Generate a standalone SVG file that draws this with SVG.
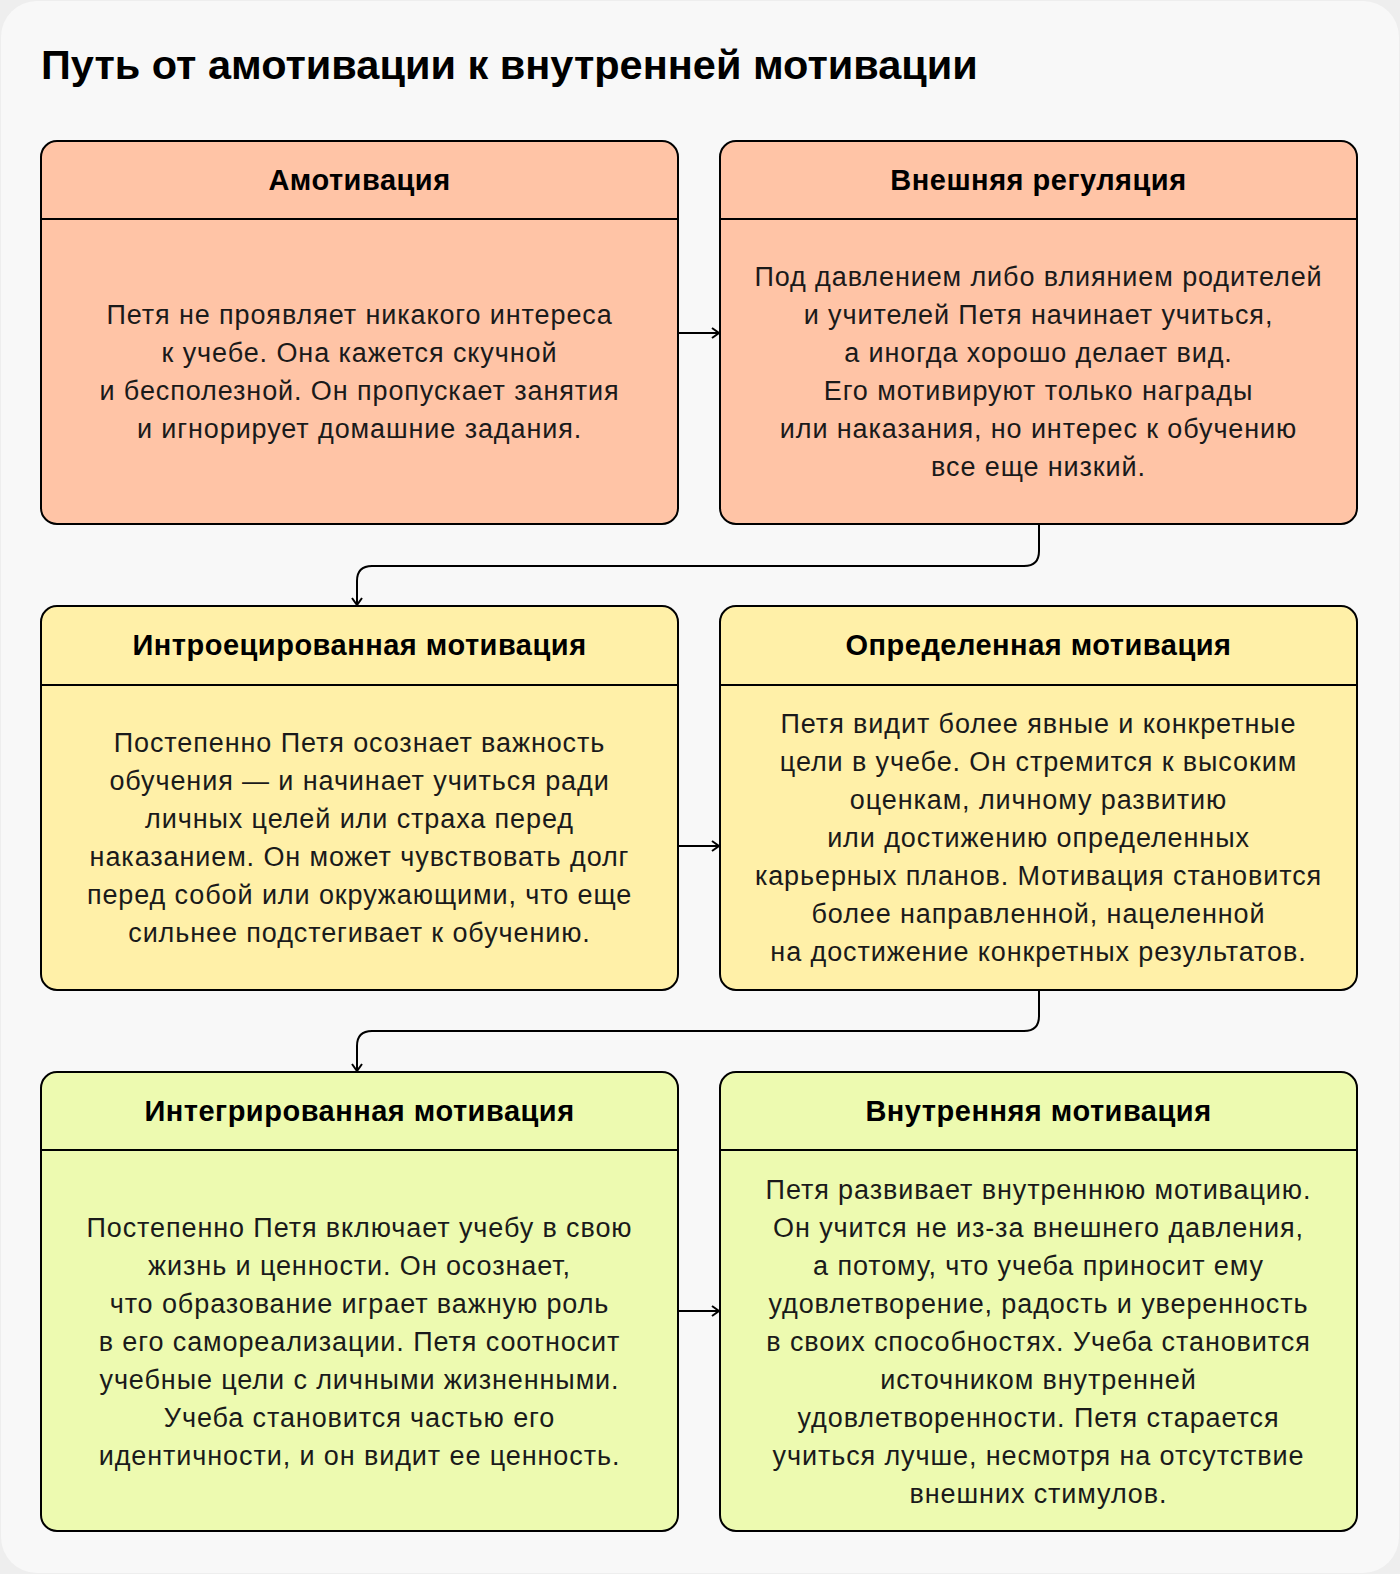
<svg xmlns="http://www.w3.org/2000/svg" width="1400" height="1574" viewBox="0 0 1400 1574">
<defs>
<style>
.box{stroke:#000;stroke-width:2}
.r1{fill:#FFC4A6}.r2{fill:#FFF0A8}.r3{fill:#EDFAB0}
.div{stroke:#000;stroke-width:2}
.h{font-family:"Liberation Sans",Arial,sans-serif;font-weight:bold;font-size:29px;letter-spacing:0.5px;fill:#000;text-anchor:middle}
.t{font-family:"Liberation Sans",Arial,sans-serif;font-size:27px;letter-spacing:0.9px;fill:#1a1a1a;text-anchor:middle}
.c{fill:none;stroke:#000;stroke-width:2}
</style>
<marker id="ah" viewBox="0 0 12 12" refX="10" refY="6" markerWidth="12" markerHeight="12" markerUnits="userSpaceOnUse" orient="auto">
<polyline points="3,1 10,6 3,11" fill="none" stroke="#000" stroke-width="2"/>
</marker>
</defs>
<rect x="0" y="0" width="1400" height="1574" fill="#EEEEEE"/>
<rect x="1" y="1" width="1398" height="1572" rx="36" fill="#F8F8F8"/>
<text x="41" y="79" font-family="Liberation Sans, Arial, sans-serif" font-weight="bold" font-size="41.5" fill="#000">Путь от амотивации к внутренней мотивации</text>

<g id="connectors">
<path class="c" d="M678 333 H719" marker-end="url(#ah)"/>
<path class="c" d="M678 846 H719" marker-end="url(#ah)"/>
<path class="c" d="M678 1311 H719" marker-end="url(#ah)"/>
<path class="c" d="M1039 524 V551 Q1039 566 1024 566 H372 Q357 566 357 581 V605" marker-end="url(#ah)"/>
<path class="c" d="M1039 990 V1016 Q1039 1031 1024 1031 H372 Q357 1031 357 1046 V1071" marker-end="url(#ah)"/>
</g>

<g id="n1">
<rect class="box r1" x="41" y="141" width="637" height="383" rx="16"/>
<line class="div" x1="41" y1="219" x2="678" y2="219"/>
<text class="h" x="359.5" y="190">Амотивация</text>
<text class="t" x="359.5" y="324">Петя не проявляет никакого интереса</text>
<text class="t" x="359.5" y="362">к учебе. Она кажется скучной</text>
<text class="t" x="359.5" y="400">и бесполезной. Он пропускает занятия</text>
<text class="t" x="359.5" y="438">и игнорирует домашние задания.</text>
</g>

<g id="n2">
<rect class="box r1" x="720" y="141" width="637" height="383" rx="16"/>
<line class="div" x1="720" y1="219" x2="1357" y2="219"/>
<text class="h" x="1038.5" y="190">Внешняя регуляция</text>
<text class="t" x="1038.5" y="286">Под давлением либо влиянием родителей</text>
<text class="t" x="1038.5" y="324">и учителей Петя начинает учиться,</text>
<text class="t" x="1038.5" y="362">а иногда хорошо делает вид.</text>
<text class="t" x="1038.5" y="400">Его мотивируют только награды</text>
<text class="t" x="1038.5" y="438">или наказания, но интерес к обучению</text>
<text class="t" x="1038.5" y="476">все еще низкий.</text>
</g>

<g id="n3">
<rect class="box r2" x="41" y="606" width="637" height="384" rx="16"/>
<line class="div" x1="41" y1="685" x2="678" y2="685"/>
<text class="h" x="359.5" y="655">Интроецированная мотивация</text>
<text class="t" x="359.5" y="752">Постепенно Петя осознает важность</text>
<text class="t" x="359.5" y="790">обучения — и начинает учиться ради</text>
<text class="t" x="359.5" y="828">личных целей или страха перед</text>
<text class="t" x="359.5" y="866">наказанием. Он может чувствовать долг</text>
<text class="t" x="359.5" y="904">перед собой или окружающими, что еще</text>
<text class="t" x="359.5" y="942">сильнее подстегивает к обучению.</text>
</g>

<g id="n4">
<rect class="box r2" x="720" y="606" width="637" height="384" rx="16"/>
<line class="div" x1="720" y1="685" x2="1357" y2="685"/>
<text class="h" x="1038.5" y="655">Определенная мотивация</text>
<text class="t" x="1038.5" y="733">Петя видит более явные и конкретные</text>
<text class="t" x="1038.5" y="771">цели в учебе. Он стремится к высоким</text>
<text class="t" x="1038.5" y="809">оценкам, личному развитию</text>
<text class="t" x="1038.5" y="847">или достижению определенных</text>
<text class="t" x="1038.5" y="885">карьерных планов. Мотивация становится</text>
<text class="t" x="1038.5" y="923">более направленной, нацеленной</text>
<text class="t" x="1038.5" y="961">на достижение конкретных результатов.</text>
</g>

<g id="n5">
<rect class="box r3" x="41" y="1072" width="637" height="459" rx="16"/>
<line class="div" x1="41" y1="1150" x2="678" y2="1150"/>
<text class="h" x="359.5" y="1121">Интегрированная мотивация</text>
<text class="t" x="359.5" y="1237">Постепенно Петя включает учебу в свою</text>
<text class="t" x="359.5" y="1275">жизнь и ценности. Он осознает,</text>
<text class="t" x="359.5" y="1313">что образование играет важную роль</text>
<text class="t" x="359.5" y="1351">в его самореализации. Петя соотносит</text>
<text class="t" x="359.5" y="1389">учебные цели с личными жизненными.</text>
<text class="t" x="359.5" y="1427">Учеба становится частью его</text>
<text class="t" x="359.5" y="1465">идентичности, и он видит ее ценность.</text>
</g>

<g id="n6">
<rect class="box r3" x="720" y="1072" width="637" height="459" rx="16"/>
<line class="div" x1="720" y1="1150" x2="1357" y2="1150"/>
<text class="h" x="1038.5" y="1121">Внутренняя мотивация</text>
<text class="t" x="1038.5" y="1199">Петя развивает внутреннюю мотивацию.</text>
<text class="t" x="1038.5" y="1237">Он учится не из-за внешнего давления,</text>
<text class="t" x="1038.5" y="1275">а потому, что учеба приносит ему</text>
<text class="t" x="1038.5" y="1313">удовлетворение, радость и уверенность</text>
<text class="t" x="1038.5" y="1351">в своих способностях. Учеба становится</text>
<text class="t" x="1038.5" y="1389">источником внутренней</text>
<text class="t" x="1038.5" y="1427">удовлетворенности. Петя старается</text>
<text class="t" x="1038.5" y="1465">учиться лучше, несмотря на отсутствие</text>
<text class="t" x="1038.5" y="1503">внешних стимулов.</text>
</g>
</svg>
